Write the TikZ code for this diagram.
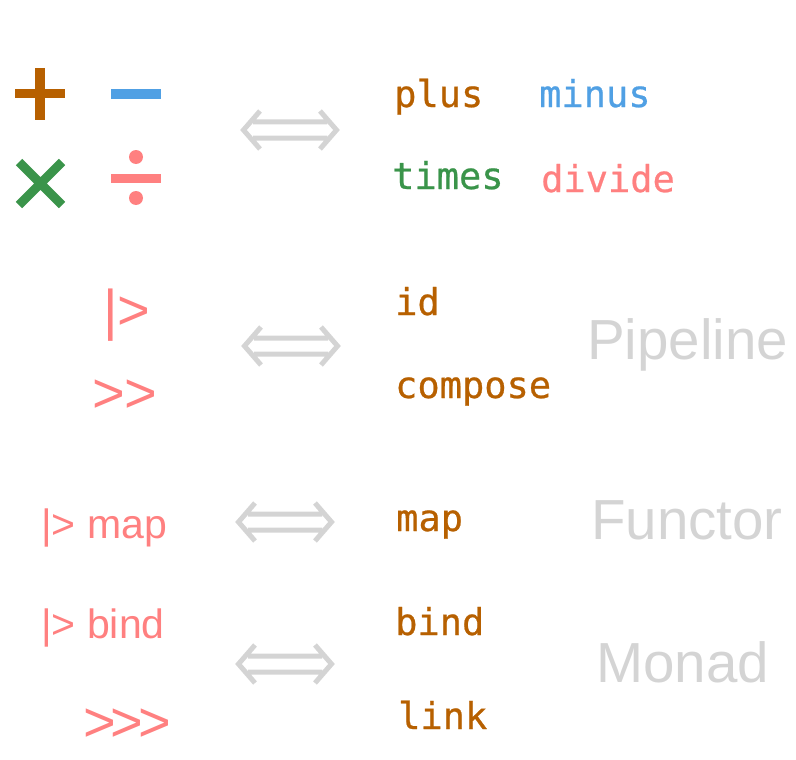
\documentclass[tikz,border=0pt]{standalone}
\usepackage{fontspec}
\setmainfont{Liberation Sans}[Ligatures=TeXOff]
\newfontfamily\codefont{DejaVu Sans Mono}[FakeBold=0.6]

\definecolor{opbrown}{RGB}{183,96,0}
\definecolor{opblue}{RGB}{80,160,228}
\definecolor{opgreen}{RGB}{58,148,74}
\definecolor{oppink}{RGB}{255,128,128}
\definecolor{softgray}{RGB}{212,212,212}

\tikzset{
  code/.style={inner sep=0pt, anchor=base west, font=\codefont\fontsize{37}{40}\selectfont},
  opname/.style={inner sep=0pt, anchor=base west, text=oppink, font=\fontsize{41}{46}\selectfont},
  bigop/.style={inner sep=0pt, anchor=base west, text=oppink, font=\fontsize{56}{60}\selectfont},
  category/.style={inner sep=0pt, anchor=base west, text=softgray, font=\fontsize{56.5}{60}\selectfont},
  symstroke/.style={line width=9.5pt},
  pics/equivarrow/.style={code={
    \draw[softgray, line width=5pt, line join=miter]
      (-37,-8) -- (37,-8)
      (-37,8) -- (37,8)
      (-30,-19) -- (-46.5,0) -- (-30,19)
      (30,-19) -- (46.5,0) -- (30,19);
  }}
}

\begin{document}
\begin{tikzpicture}[x=1pt,y=-1pt]
\useasboundingbox (0,0) rectangle (796,760);

% arithmetic operator glyphs
\draw[opbrown, symstroke] (40,68) -- (40,120) (15,93.5) -- (65,93.5);
\draw[opblue, symstroke] (111,94) -- (161,94);
\draw[opgreen, line width=9pt] (19,162) -- (62,205) (62,162) -- (19,205);
\draw[oppink, line width=9pt] (111,178) -- (161,178);
\fill[oppink] (136,157) circle (7) (136,198) circle (7);

% equivalence arrows
\pic at (290,130) {equivarrow};
\pic at (291,346) {equivarrow};
\pic at (285,522) {equivarrow};
\pic at (285,664) {equivarrow};

% function names
\node[code, text=opbrown] (plus)    at (394,107) {plus};
\node[code, text=opblue]  (minus)   at (539,107) {minus};
\node[code, text=opgreen] (times)   at (392,189) {times};
\node[code, text=oppink]  (divide)  at (541,192) {divide};
\node[code, text=opbrown] (id)      at (395,315) {id};
\node[code, text=opbrown] (compose) at (395,398) {compose};
\node[code, text=opbrown] (map)     at (396,531) {map};
\node[code, text=opbrown] (bind)    at (395,635) {bind};
\node[code, text=opbrown] (link)    at (398,729) {link};

% operators
\node[bigop] (pipe)    at (103,329) {|>};
\node[bigop] (comp)    at (92,412)  {>>};
\node[opname] (pmap)   at (41,538)  {|> map};
\node[opname] (pbind)  at (41,638)  {|> bind};
\node[bigop] (kleisli) at (83,741)  {>\kern-5pt>\kern-5pt>};

% categories
\node[category] (pipeline) at (587,359) {Pipeline};
\node[category] (functor)  at (591,539) {Functor};
\node[category] (monad)    at (596,682) {Monad};
\end{tikzpicture}
\end{document}
